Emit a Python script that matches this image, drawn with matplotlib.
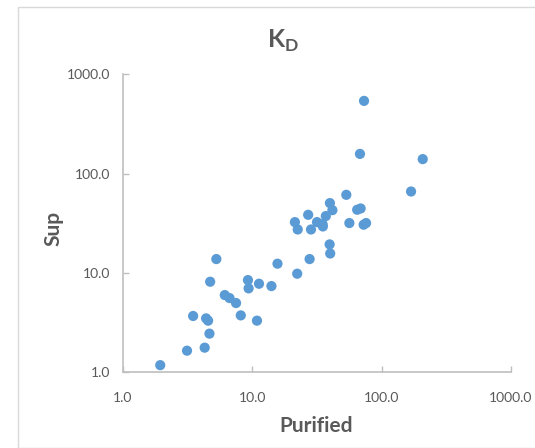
"""
Scatter of dissociation constants: purified protein vs. supernatant.
"""

import matplotlib

matplotlib.use("Agg")

import matplotlib.pyplot as plt
from matplotlib.patches import Rectangle
from matplotlib.ticker import FixedLocator, FuncFormatter, NullLocator

plt.rcParams["font.family"] = ["Lato", "DejaVu Sans"]
plt.rcParams["mathtext.fontset"] = "custom"
plt.rcParams["mathtext.rm"] = "Lato"
plt.rcParams["mathtext.bf"] = "Lato:bold"

# ============================================================
# Data
# ============================================================

purified = [
    1.95, 3.14, 4.30, 3.50, 4.41, 4.57, 4.68, 4.74, 5.29, 6.15,
    6.69, 7.51, 8.17, 9.28, 9.39, 11.3, 10.9, 14.1, 15.7, 22.3,
    27.8, 21.4, 22.5, 27.1, 28.5, 31.7, 35.0, 35.2, 37.1, 39.9,
    41.7, 39.7, 40.1, 53.4, 56.4, 64.8, 68.9, 72.7, 75.9, 68.1,
    73.2, 169.0, 208.0,
]

sup = [
    1.18, 1.65, 1.77, 3.69, 3.49, 3.31, 2.45, 8.16, 13.8, 5.99,
    5.59, 4.98, 3.74, 8.48, 7.00, 7.79, 3.31, 7.38, 12.4, 9.83,
    13.8, 32.5, 27.4, 38.5, 27.4, 32.5, 31.0, 29.4, 37.4, 50.5,
    42.9, 19.4, 15.7, 61.2, 31.8, 43.3, 44.6, 30.6, 31.8, 158.0,
    540.0, 66.1, 140.0,
]

decades = [1.0, 10.0, 100.0, 1000.0]

# ============================================================
# Figure
# ============================================================

W, H = 535, 448
fig = plt.figure(figsize=(W / 100, H / 100), dpi=100)

# chart frame
fig.patches.append(
    Rectangle(
        (17.7 / W, 0),
        1.2,
        1 - 6.8 / H,
        transform=fig.transFigure,
        fill=False,
        edgecolor="#D9D9D9",
        linewidth=1.0,
    )
)

ax = fig.add_axes([122.7 / W, 1 - 372.3 / H, 388.3 / W, 298.0 / H])

ax.scatter(
    purified,
    sup,
    s=54,
    color="#5B9BD5",
    edgecolors="none",
    zorder=3,
    clip_on=False,
)

ax.set_xscale("log")
ax.set_yscale("log")
ax.set_xlim(1, 1000)
ax.set_ylim(1, 1000)

fmt = FuncFormatter(lambda v, _: f"{v:.1f}")

for axis in (ax.xaxis, ax.yaxis):
    axis.set_major_locator(FixedLocator(decades))
    axis.set_minor_locator(NullLocator())
    axis.set_major_formatter(fmt)

ax.tick_params(
    direction="in",
    length=4,
    width=1,
    color="#BFBFBF",
    labelcolor="#595959",
    labelsize=10,
)
ax.tick_params(axis="x", pad=14)
ax.tick_params(axis="y", pad=9)

for side in ("top", "right"):
    ax.spines[side].set_visible(False)

for side in ("left", "bottom"):
    ax.spines[side].set_color("#BFBFBF")
    ax.spines[side].set_linewidth(1.2)

fig.text(
    283 / W,
    1 - 41 / H,
    r"$\mathbf{K}_\mathbf{D}$",
    ha="center",
    va="center",
    fontsize=18,
    color="#595959",
)

fig.text(
    316 / W,
    1 - 426 / H,
    "Purified",
    ha="center",
    va="center",
    fontsize=15,
    fontweight="bold",
    color="#595959",
)

fig.text(
    53 / W,
    1 - 228 / H,
    "Sup",
    ha="center",
    va="center",
    rotation=90,
    fontsize=15,
    fontweight="bold",
    color="#595959",
)

fig.savefig("out.png", dpi=100, facecolor="white")
